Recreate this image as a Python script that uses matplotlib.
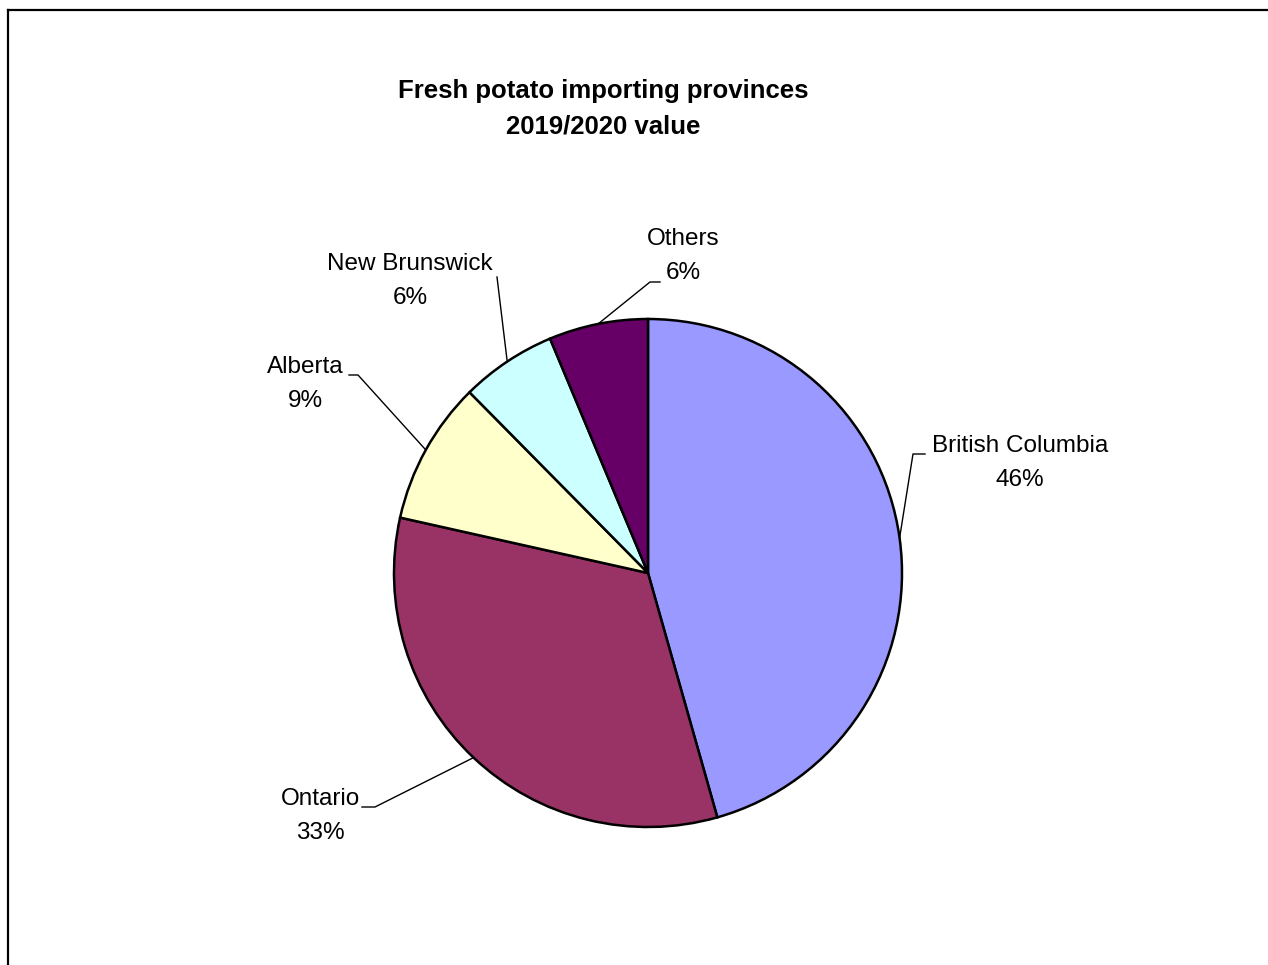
import matplotlib.pyplot as plt
from matplotlib.lines import Line2D
import numpy as np

plt.rcParams['font.family'] = ['Liberation Sans', 'DejaVu Sans']

provinces = ['British Columbia', 'Ontario', 'Alberta', 'New Brunswick', 'Others']
shares = [45.6, 32.9, 9.1, 6.1, 6.3]
pct_labels = ['46%', '33%', '9%', '6%', '6%']
colors = ['#9999FF', '#993366', '#FFFFCC', '#CCFFFF', '#660066']

W, H = 1268, 965
CX, CY, R = 648, 573, 254


def px(x, y):
    # pixel position -> data coords (pie radius = 1)
    return (x - CX) / R, (CY - y) / R


# label text centre, elbow of leader line, end of short horizontal tick
text_pos = [(1020, 463), (320, 816), (305, 384), (410, 281), (683, 256)]
elbow = [(913, 454), (375, 807), (358, 375), (497, 277), (650, 282)]
tick_end = [(925, 454), (362, 807), (349, 375), (497, 277), (660, 282)]

fig = plt.figure(figsize=(W / 100, H / 100), dpi=100)
ax = fig.add_axes([0, 0, 1, 1])
ax.axis('off')

wedges, _ = ax.pie(shares, colors=colors, startangle=90, counterclock=False,
                   radius=1, center=(0, 0),
                   wedgeprops=dict(edgecolor='black', linewidth=1.8))

# pie() resets the limits, so set them afterwards
ax.set_xlim(-CX / R, (W - CX) / R)
ax.set_ylim(-(H - CY) / R, CY / R)
ax.set_aspect('equal')

for i, w in enumerate(wedges):
    mid = np.deg2rad((w.theta1 + w.theta2) / 2)
    ex, ey = np.cos(mid), np.sin(mid)
    bx, by = px(*elbow[i])
    tx, ty = px(*tick_end[i])
    ax.plot([ex, bx, tx], [ey, by, ty], color='black', linewidth=1.0)
    lx, ly = px(*text_pos[i])
    ax.text(lx, ly, provinces[i] + '\n' + pct_labels[i], ha='center', va='center',
            fontsize=17.5, linespacing=1.65)

fig.text(603 / W, 1 - 109 / H, 'Fresh potato importing provinces\n2019/2020 value',
         ha='center', va='center', fontsize=18.5, fontweight='bold', linespacing=1.6)

# chart frame (only top and left edges visible)
fig.add_artist(Line2D([8 / W, 1], [1 - 10 / H, 1 - 10 / H], color='black', linewidth=1.6))
fig.add_artist(Line2D([8 / W, 8 / W], [0, 1 - 10 / H], color='black', linewidth=1.6))

fig.savefig('out.png', dpi=100, facecolor='white')
